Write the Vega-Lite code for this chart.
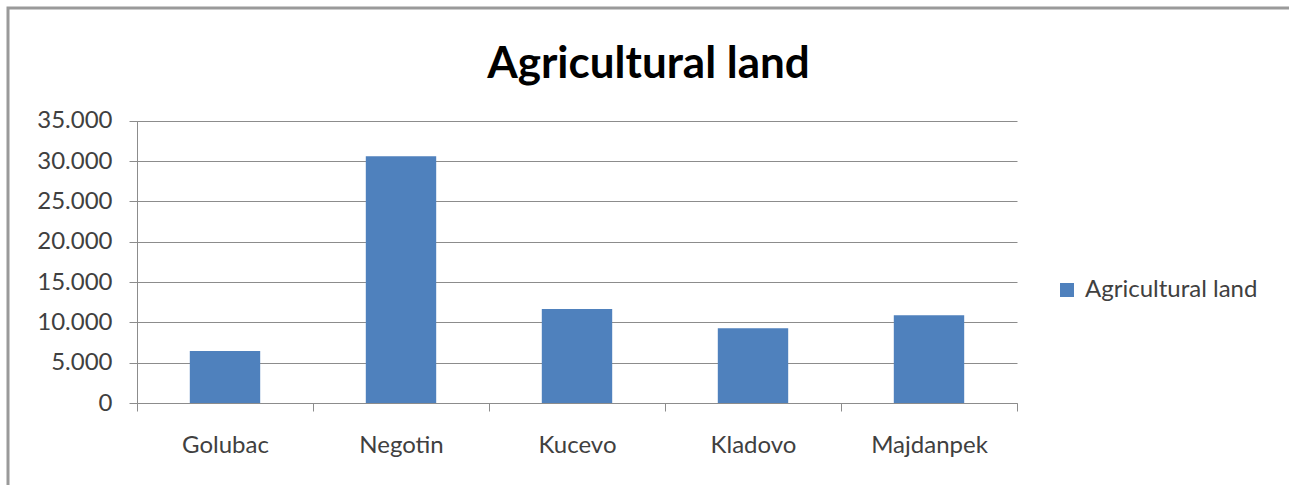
{
  "$schema": "https://vega.github.io/schema/vega-lite/v6.json",
  "width": 1281,
  "height": 477,
  "autosize": {"type": "none"},
  "padding": {"left": 8, "top": 8, "right": 1, "bottom": 0},
  "background": "white",
  "title": {
    "text": "Agricultural land",
    "font": "Lato",
    "fontSize": 44,
    "fontWeight": "bold",
    "color": "#000000",
    "anchor": "middle",
    "frame": "group",
    "baseline": "alphabetic",
    "offset": -114
  },
  "data": {
    "values": [
      {"municipality": "Golubac", "area": 6450, "series": "Agricultural land"},
      {"municipality": "Negotin", "area": 30600, "series": "Agricultural land"},
      {"municipality": "Kucevo", "area": 11650, "series": "Agricultural land"},
      {"municipality": "Kladovo", "area": 9260, "series": "Agricultural land"},
      {"municipality": "Majdanpek", "area": 10870, "series": "Agricultural land"}
    ]
  },
  "mark": {"type": "bar", "width": {"band": 0.4}},
  "encoding": {
    "x": {
      "field": "municipality",
      "type": "nominal",
      "sort": null,
      "scale": {"range": [129, 1009], "paddingInner": 0, "paddingOuter": 0},
      "axis": {
        "title": null,
        "offset": -82,
        "tickBand": "extent",
        "labelFont": "Lato",
        "labelFontSize": 24,
        "labelColor": "#404040",
        "labelPadding": 22,
        "labelAngle": 0,
        "labelBaseline": "top",
        "tickSize": 8,
        "tickColor": "#8c8c8c",
        "domainColor": "#8c8c8c",
        "grid": false
      }
    },
    "y": {
      "field": "area",
      "type": "quantitative",
      "scale": {"domain": [0, 35000], "range": [395, 112.7], "nice": false, "zero": true},
      "axis": {
        "title": null,
        "offset": -129,
        "values": [0, 5000, 10000, 15000, 20000, 25000, 30000, 35000],
        "labelExpr": "replace(format(datum.value, ','), ',', '.')",
        "labelFont": "Lato",
        "labelFontSize": 24,
        "labelColor": "#404040",
        "labelPadding": 17,
        "labelBaseline": "middle",
        "tickSize": 8,
        "tickColor": "#8c8c8c",
        "domainColor": "#8c8c8c",
        "grid": true,
        "gridColor": "#8c8c8c"
      }
    },
    "color": {
      "field": "series",
      "type": "nominal",
      "scale": {"range": ["#4F81BD"]},
      "legend": {
        "title": null,
        "orient": "none",
        "legendX": 1047,
        "legendY": 270,
        "symbolType": "square",
        "symbolSize": 196,
        "symbolStrokeWidth": 0,
        "labelFont": "Lato",
        "labelFontSize": 24,
        "labelColor": "#404040",
        "labelOffset": 6,
        "labelLimit": 400
      }
    }
  },
  "config": {
    "view": {"stroke": "#9a9a9a", "strokeWidth": 3, "strokeDash": [1281, 1758, 477]}
  }
}
